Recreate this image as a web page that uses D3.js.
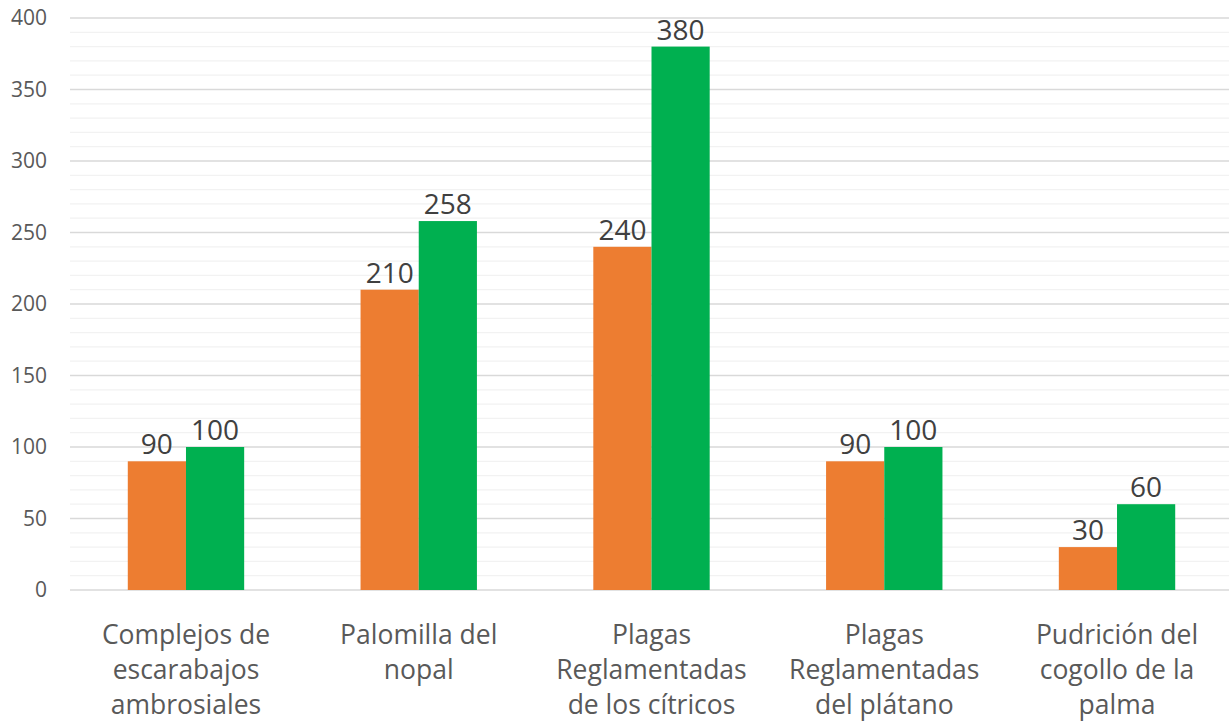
<!DOCTYPE html>
<html><head><meta charset="utf-8">
<script src="https://cdn.jsdelivr.net/npm/d3@7"></script>
<style>html,body{margin:0;padding:0;background:#fff;}</style>
</head><body>
<svg id="c" width="1229" height="728"></svg>
<script>
const categories = [
  ["Complejos de","escarabajos","ambrosiales"],
  ["Palomilla del","nopal"],
  ["Plagas","Reglamentadas","de los cítricos"],
  ["Plagas","Reglamentadas","del plátano"],
  ["Pudrición del","cogollo de la","palma"]
];
const seriesA = [90, 210, 240, 90, 30];
const seriesB = [100, 258, 380, 100, 60];
const yTicks = [0, 50, 100, 150, 200, 250, 300, 350, 400];
const colors = ["#ED7D31", "#00B050"];

const svg = d3.select("#c");
const m = {left: 70, top: 18, bottom: 138};
const W = 1229, H = 728;
const x = d3.scaleBand().domain(d3.range(categories.length)).range([69.6, 1233.4]).paddingInner(0.5).paddingOuter(0.25);
const y = d3.scaleLinear().domain([0, 400]).range([H - m.bottom, m.top]);

// minor gridlines
const minor = d3.range(10, 400, 10).filter(v => v % 50 !== 0);
svg.append("g").selectAll("line").data(minor).join("line")
  .attr("x1", m.left).attr("x2", W)
  .attr("y1", d => y(d)).attr("y2", d => y(d))
  .attr("stroke", "#f2f2f2").attr("stroke-width", 1.3);
// major
svg.append("g").selectAll("line").data(yTicks).join("line")
  .attr("x1", m.left).attr("x2", W)
  .attr("y1", d => y(d)).attr("y2", d => y(d))
  .attr("stroke", "#d9d9d9").attr("stroke-width", 1.3);

// y axis labels
const yAxis = d3.axisLeft(y).tickValues(yTicks).tickSize(0).tickPadding(0);
const ga = svg.append("g").attr("transform", `translate(47,0)`).call(yAxis);
ga.select(".domain").remove();
ga.selectAll("text").attr("font-family", "'Open Sans', sans-serif").attr("font-size", 21).attr("fill", "#595959");

const bw = x.bandwidth() / 2;
const series = [seriesA, seriesB];
series.forEach((s, si) => {
  const g = svg.append("g");
  g.selectAll("rect").data(s).join("rect")
    .attr("x", (d, i) => x(i) + si * bw)
    .attr("y", d => y(d))
    .attr("width", bw)
    .attr("height", d => y(0) - y(d))
    .attr("fill", colors[si]);
  g.selectAll("text").data(s).join("text")
    .attr("x", (d, i) => x(i) + si * bw + bw / 2)
    .attr("y", d => y(d) - 7)
    .attr("text-anchor", "middle")
    .attr("font-family", "'Open Sans', sans-serif")
    .attr("font-size", 28)
    .attr("fill", "#404040")
    .text(d => d);
});

// category labels
const cg = svg.append("g");
categories.forEach((lines, i) => {
  const cx = x(i) + x.bandwidth() / 2;
  const t = cg.append("text")
    .attr("x", cx)
    .attr("y", 644)
    .attr("text-anchor", "middle")
    .attr("font-family", "'Open Sans', sans-serif")
    .attr("font-size", 26.5)
    .attr("fill", "#595959");
  lines.forEach((l, j) => {
    t.append("tspan").attr("x", cx).attr("dy", j === 0 ? 0 : 35).text(l);
  });
});
</script>
</body></html>
